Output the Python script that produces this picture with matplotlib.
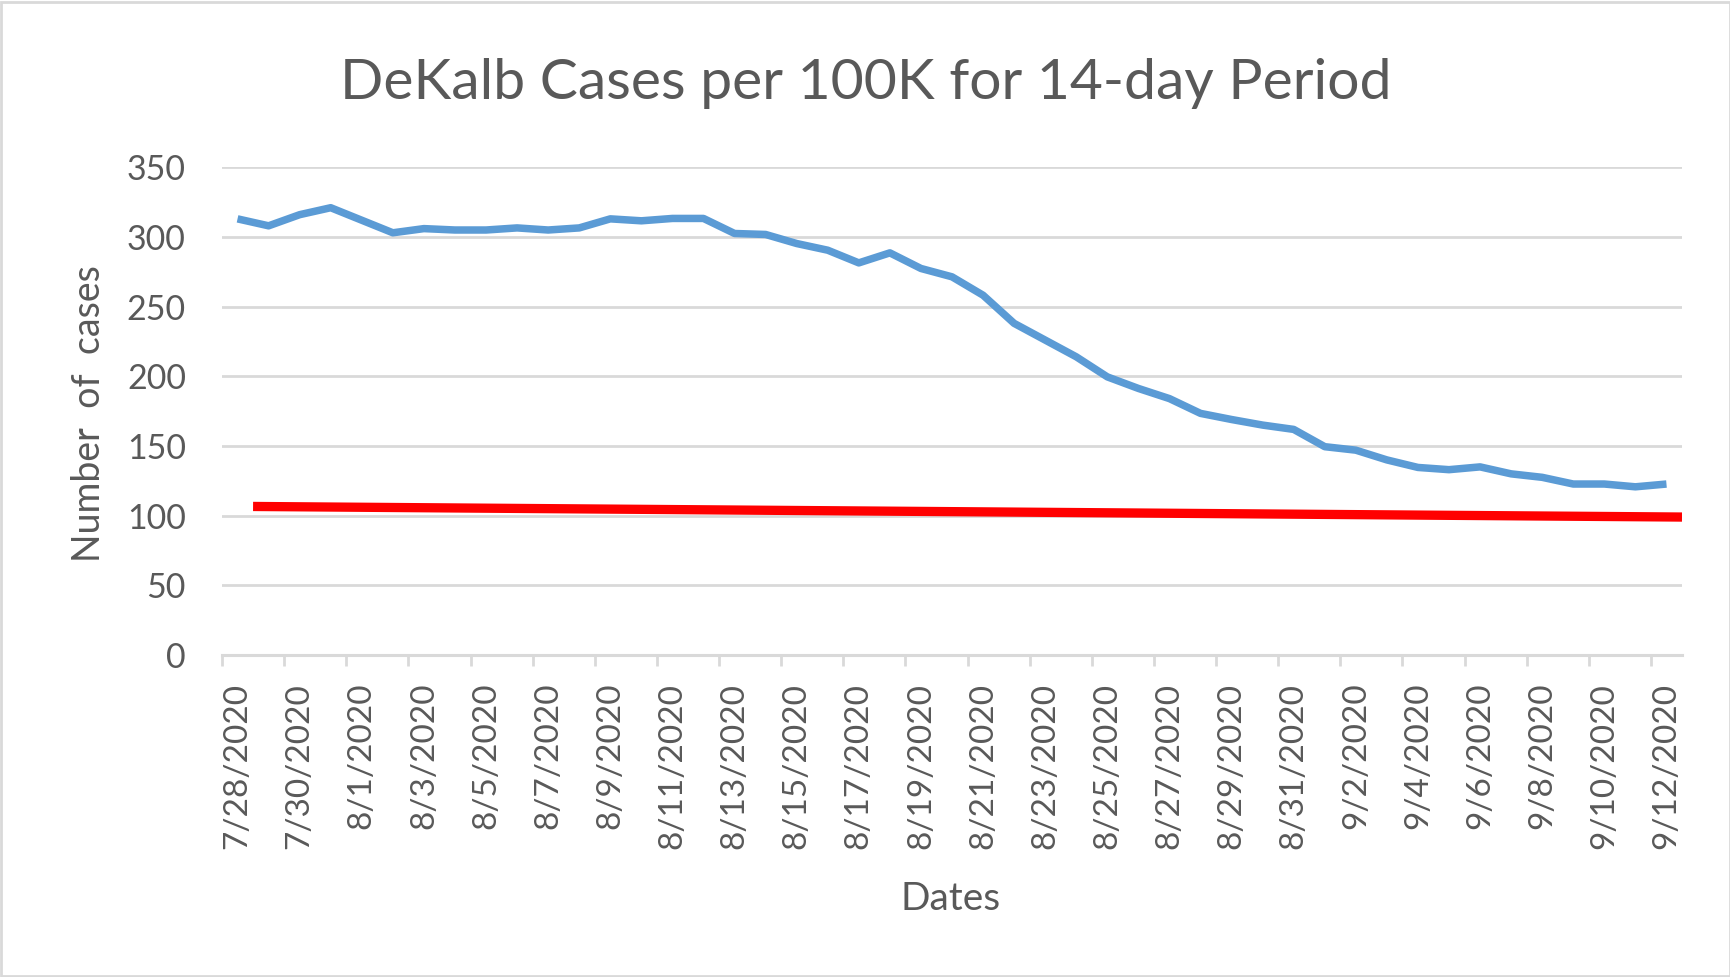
import matplotlib
matplotlib.use("Agg")
import matplotlib.pyplot as plt
from matplotlib.patches import Rectangle
import pandas as pd
import numpy as np

# ---- data ----
dates = pd.date_range("2020-07-28", "2020-09-12", freq="D")
date_labels = [f"{d.month}/{d.day}/{d.year}" for d in dates]
cases = [313, 308, 316, 321, 312, 303, 306, 305, 305, 306.5,
         305, 306.5, 313, 311.6, 313.3, 313.3, 302.5, 301.8, 295.3, 290.5,
         281.4, 288.6, 277.4, 271.4, 258.2, 238, 226, 214, 199.6, 191.3,
         184, 173.4, 169, 165, 161.9, 149.5, 147, 140, 134.6, 133,
         135, 130, 127.5, 122.7, 122.7, 120.7, 122.7]
threshold_x = [0.5, 46.5]          # category-axis positions of the red line ends
threshold_y = [106.6, 99.0]
y_ticks = [0, 50, 100, 150, 200, 250, 300, 350]

TEXT = "#595959"
GRID = "#D9D9D9"
BLUE = "#5B9BD5"
RED = "#FF0000"
FONT = "Lato"

plt.rcParams["font.family"] = [FONT, "DejaVu Sans"]

fig = plt.figure(figsize=(17.31, 9.77), dpi=100)
W, H = 1731, 977
ax = fig.add_axes([222 / W, 1 - 655 / H, (1682 - 222) / W, (655 - 167.3) / H])

x = np.arange(len(cases))
ax.plot(x, cases, color=BLUE, lw=5.4, solid_joinstyle="round", solid_capstyle="butt", zorder=3)
ax.plot(threshold_x, threshold_y, color=RED, lw=6.7, solid_capstyle="butt", zorder=3)

ax.set_xlim(-0.5, len(cases) - 0.5)
ax.set_ylim(0, 350)

# gridlines
ax.set_yticks(y_ticks)
ax.yaxis.grid(True, color=GRID, lw=2.0)
ax.set_axisbelow(True)
ax.tick_params(axis="y", length=0, pad=26, labelsize=24.5, labelcolor=TEXT)
for lab in ax.get_yticklabels():
    lab.set_fontfamily(FONT)

# x axis: ticks on every other category boundary, labels on every other category
ax.set_xticks(np.arange(-0.5, len(cases) - 0.5, 2))
ax.set_xticklabels([])
ax.tick_params(axis="x", which="major", length=8, width=2, color=GRID)
ax.set_xticks(x[::2], minor=True)
ax.set_xticklabels(date_labels[::2], minor=True, rotation=90, fontsize=24, color=TEXT, fontfamily=FONT)
ax.tick_params(axis="x", which="minor", length=0, pad=20)

for s in ["top", "right", "left"]:
    ax.spines[s].set_visible(False)
ax.spines["bottom"].set_color(GRID)
ax.spines["bottom"].set_linewidth(2.2)

fig.text(0.5, 1 - 99 / H, "DeKalb Cases per 100K for 14-day Period", ha="center", va="baseline",
         fontsize=41, color=TEXT, fontfamily=FONT)
fig.text(89 / W, 1 - 414 / H, "Number  of  cases", rotation=90, ha="center", va="center",
         fontsize=27, color=TEXT, fontfamily=FONT)
fig.text(951 / W, 1 - 899 / H, "Dates", ha="center", va="center",
         fontsize=28, color=TEXT, fontfamily=FONT)

fig.patches.append(Rectangle((0.0005, 0.001), 0.999, 0.997, transform=fig.transFigure,
                             fill=False, edgecolor=GRID, lw=2))

fig.savefig("out.png", dpi=100)
